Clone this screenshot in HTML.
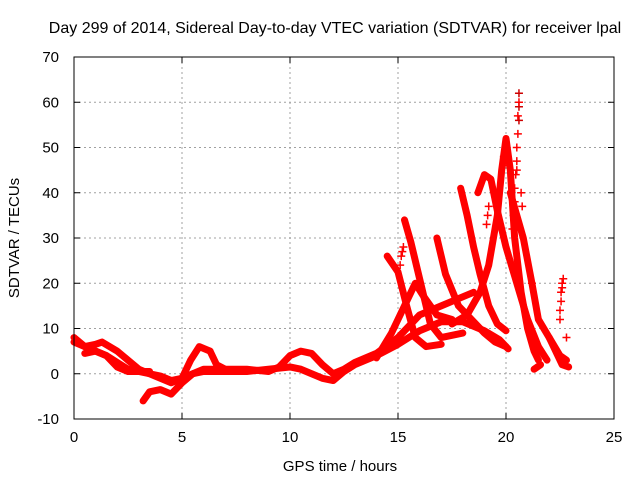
<!DOCTYPE html>
<html><head><meta charset="utf-8"><style>
html,body{margin:0;padding:0;background:#fff}
svg{display:block;font-family:"Liberation Sans",sans-serif}
</style></head><body>
<svg id="chart" width="640" height="480">
<text x="335" y="33" font-size="16" text-anchor="middle">Day 299 of 2014, Sidereal Day-to-day VTEC variation (SDTVAR) for receiver lpal</text>
<g id="grid"></g>
<g id="traces"></g>
<g id="marks"></g>
<rect x="74" y="57" width="540" height="362" fill="none" stroke="#000" stroke-width="1"/>
<g id="ticks"></g>
<text x="340" y="471" font-size="15" text-anchor="middle">GPS time / hours</text>
<text transform="translate(19,238) rotate(-90)" font-size="15" text-anchor="middle">SDTVAR / TECUs</text>
</svg>
<script>
const xTicks=[0,5,10,15,20,25];
const yTicks=[-10,0,10,20,30,40,50,60,70];
const trace1=[[0,8],[0.5,6],[1,5],[1.5,4],[2,2.5],[2.5,1],[3,0.5],[3.5,0],[4,-0.5],[4.5,-1.5],[5,-1],[5.5,0],[6,0.5],[7,0.5],[8,0.5],[9,1],[10,1.5],[10.5,1],[11,0],[11.5,-1],[12,-1.5],[12.5,0.5],[13,2],[14,4],[15,6.5],[16,9.5],[17,11.5],[18,11.5],[19,9.5],[19.7,7.5],[20.1,5.5]];
const trace2=[[0,7],[0.5,6],[1,6.5],[1.3,7],[2,5],[2.5,3],[3,1],[3.5,0],[4,-1],[4.5,-2],[5,-1],[5.4,3],[5.8,6],[6.3,5]];
const trace3=[[6.3,5],[6.6,2],[7,1],[8,1],[9,0.5],[9.5,1.5],[10,4],[10.5,5],[11,4.5],[11.5,2],[12,0],[12.5,1],[13,2.5],[14,4.5],[15,8],[16,13],[17,15],[18,17],[18.5,18]];
const trace4=[[3.2,-6],[3.5,-4],[4,-3.5],[4.5,-4.5],[5,-2],[5.5,0],[6,1],[7,1]];
const trace5=[[0.5,4.5],[1,5],[1.5,4],[2,1.5],[2.5,0.5],[3,0.5],[3.5,0.5]];
const trace6=[[14.5,26],[15,22.5],[15.4,15],[15.8,8],[16.3,6],[17,6.5]];
const trace7=[[15.3,34],[15.6,29],[16,21],[16.5,11],[17,8],[18,9]];
const trace8=[[16.8,30],[17.2,22],[17.8,15],[18.4,12],[19,9],[19.5,7],[20,6]];
const trace9=[[17.9,41],[18.2,35],[18.5,28],[18.8,22],[19.2,15],[19.6,11],[20,9.5]];
const trace10=[[18.7,40],[19,44],[19.3,43],[19.6,36],[20,28],[20.5,20],[21,12],[21.5,6],[21.9,3]];
const trace11=[[14,3.5],[14.7,9],[15.3,15],[15.8,20],[16.2,17],[16.8,13],[17.5,12]];
const trace12=[[17.5,11],[18.2,13],[18.8,18],[19.2,24],[19.6,35],[19.8,45],[20,52],[20.2,45],[20.4,30],[20.7,18],[21,10],[21.3,5],[21.5,3]];
const trace13=[[20.2,40],[20.5,35],[20.8,30],[21,25],[21.2,20],[21.5,12],[22,8],[22.5,4],[22.8,3]];
const trace14=[[22,8],[22.3,5],[22.6,2],[22.9,1.5]];
const trace15=[[21.3,1],[21.6,2]];
const spikeX=[20.6,20.6,20.6,20.55,20.5,20.5,20.45,20.4,20.4,20.35,20.3,20.7,20.75,22.5,22.5,22.55,22.55,22.6,22.6,22.65,21.2,22.8,15.1,15.15,15.2,15.25,19.1,19.15,19.2,20.6,20.55,20.5,19.9,20.0,20.1];
const spikeY=[62,59,56,53,50,47,44,41,38,35,32,40,37,12,14,16,18,19,20,21,20,8,24,26,27,28,33,35,37,60,57,45,48,50,46];
const X0=74,X1=614,Y0=419,Y1=57;
const xs=v=>X0+(v-0)/25*(X1-X0);
const ys=v=>Y0-(v+10)/80*(Y0-Y1);
const NS="http://www.w3.org/2000/svg";
const grid=document.getElementById('grid'),ticks=document.getElementById('ticks');
function mk(t,a){const e=document.createElementNS(NS,t);for(const k in a)e.setAttribute(k,a[k]);return e;}
xTicks.forEach(v=>{const x=xs(v);
 if(v>0&&v<25){const g=mk('line',{x1:x,y1:Y0,x2:x,y2:Y1,stroke:'#a0a0a0','stroke-dasharray':'2,3'});
 
 grid.appendChild(g);}
 ticks.appendChild(mk('line',{x1:x,y1:Y0,x2:x,y2:Y0-6,stroke:'#000'}));
 ticks.appendChild(mk('line',{x1:x,y1:Y1,x2:x,y2:Y1+6,stroke:'#000'}));
 const l=mk('text',{x:x,y:Y0+23,'font-size':15,'text-anchor':'middle'});l.textContent=v;
 
 ticks.appendChild(l);});
yTicks.forEach(v=>{const y=ys(v);
 if(v>-10&&v<70){const g=mk('line',{x1:X0,y1:y,x2:X1,y2:y,stroke:'#a0a0a0','stroke-dasharray':'2,3'});
 
 grid.appendChild(g);}
 ticks.appendChild(mk('line',{x1:X0,y1:y,x2:X0+6,y2:y,stroke:'#000'}));
 ticks.appendChild(mk('line',{x1:X1,y1:y,x2:X1-6,y2:y,stroke:'#000'}));
 const l=mk('text',{x:X0-15,y:y+5,'font-size':15,'text-anchor':'end'});l.textContent=v;
 
 ticks.appendChild(l);});
const tr=document.getElementById('traces');
[trace1,trace2,trace3,trace4,trace5,trace6,trace7,trace8,trace9,trace10,trace11,trace12,trace13,trace14,trace15].forEach((d,i)=>{
 const p=mk('polyline',{points:d.map(q=>xs(q[0])+','+ys(q[1])).join(' '),fill:'none',stroke:'#ff0000','stroke-width':7,'stroke-linejoin':'round','stroke-linecap':'round'});
 
 tr.appendChild(p);});
const mg=document.getElementById('marks');
spikeX.forEach((x,i)=>{const cx=xs(x),cy=ys(spikeY[i]);
 const p=mk('path',{d:`M${cx-4},${cy}H${cx+4}M${cx},${cy-4}V${cy+4}`,stroke:i<3?'#cc0000':'#ff0000','stroke-width':1.5,fill:'none'});
 
 mg.appendChild(p);});
</script>
</body></html>
